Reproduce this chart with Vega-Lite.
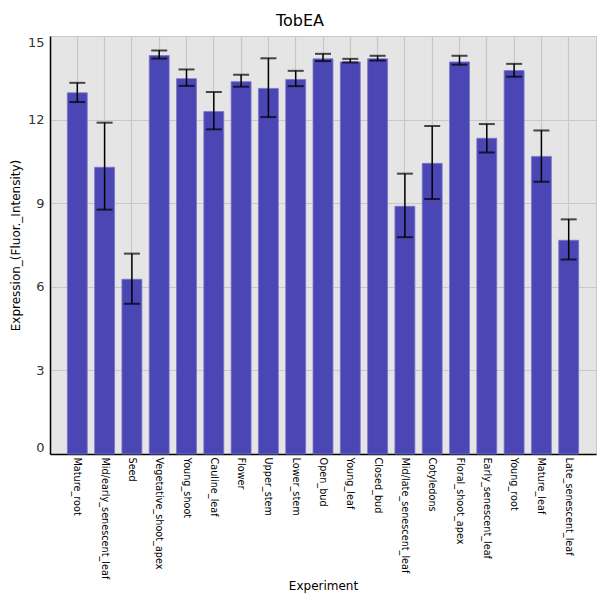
{
  "$schema": "https://vega.github.io/schema/vega-lite/v6.json",
  "autosize": "none",
  "padding": {"left": 50, "top": 36, "right": 4, "bottom": 146},
  "width": 546,
  "height": 418,
  "background": "white",
  "title": {"text": "TobEA", "fontSize": 16, "font": "DejaVu Sans", "fontWeight": "normal", "color": "black", "offset": 7, "dx": -23},
  "data": {
    "values": [
      {"Experiment": "Mature_root", "mean": 12.96, "lo": 12.63, "hi": 13.32},
      {"Experiment": "Mid/early_senescent_leaf", "mean": 10.29, "lo": 8.77, "hi": 11.89},
      {"Experiment": "Seed", "mean": 6.27, "lo": 5.39, "hi": 7.19},
      {"Experiment": "Vegetative_shoot_apex", "mean": 14.3, "lo": 14.19, "hi": 14.48},
      {"Experiment": "Young_shoot", "mean": 13.47, "lo": 13.21, "hi": 13.8},
      {"Experiment": "Cauline_leaf", "mean": 12.29, "lo": 11.65, "hi": 12.99},
      {"Experiment": "Flower", "mean": 13.36, "lo": 13.18, "hi": 13.61},
      {"Experiment": "Upper_stem", "mean": 13.12, "lo": 12.09, "hi": 14.2},
      {"Experiment": "Lower_stem", "mean": 13.44, "lo": 13.2, "hi": 13.75},
      {"Experiment": "Open_bud", "mean": 14.18, "lo": 14.1, "hi": 14.36},
      {"Experiment": "Young_leaf", "mean": 14.07, "lo": 14.05, "hi": 14.18},
      {"Experiment": "Closed_bud", "mean": 14.18, "lo": 14.12, "hi": 14.29},
      {"Experiment": "Mid/late_senescent_leaf", "mean": 8.89, "lo": 7.78, "hi": 10.06},
      {"Experiment": "Cotyledons", "mean": 10.43, "lo": 9.15, "hi": 11.77},
      {"Experiment": "Floral_shoot_apex", "mean": 14.07, "lo": 13.97, "hi": 14.29},
      {"Experiment": "Early_senescent_leaf", "mean": 11.33, "lo": 10.82, "hi": 11.84},
      {"Experiment": "Young_root", "mean": 13.76, "lo": 13.54, "hi": 14.0},
      {"Experiment": "Mature_leaf", "mean": 10.68, "lo": 9.77, "hi": 11.61},
      {"Experiment": "Late_senescent_leaf", "mean": 7.67, "lo": 6.98, "hi": 8.42}
    ]
  },
  "encoding": {
    "x": {
      "field": "Experiment",
      "type": "nominal",
      "sort": null,
      "scale": {"paddingInner": 0.27, "paddingOuter": 0.635},
      "axis": {
        "title": "Experiment",
        "titleFontSize": 12,
        "titleFontWeight": "normal",
        "titleFont": "DejaVu Sans",
        "titleColor": "black",
        "titlePadding": 2,
        "labelAngle": 90,
        "labelAlign": "left",
        "labelBaseline": "middle",
        "labelFont": "DejaVu Sans",
        "labelFontSize": 9.7,
        "labelColor": "black",
        "labelPadding": 3,
        "labelLimit": 200,
        "ticks": false,
        "domainColor": "black",
        "domainWidth": 1.5,
        "grid": true,
        "gridColor": "#c8c8c8",
        "gridWidth": 1.2
      }
    }
  },
  "layer": [
    {
      "mark": {"type": "bar", "color": "#4a46b3", "stroke": "#7a76cc", "strokeWidth": 0.8},
      "encoding": {
        "y": {
          "field": "mean",
          "type": "quantitative",
          "scale": {"domain": [0, 15], "nice": false},
          "axis": {
            "title": "Expression_(Fluor._Intensity)",
            "titleFontSize": 12,
            "titleFontWeight": "normal",
            "titleFont": "DejaVu Sans",
            "titleColor": "black",
            "titlePadding": 5,
            "values": [0, 3, 6, 9, 12, 15],
            "labelFlush": true,
            "labelFont": "DejaVu Sans",
            "labelFontSize": 13,
            "labelColor": "#333333",
            "labelPadding": 6,
            "ticks": false,
            "domainColor": "black",
            "domainWidth": 1.5,
            "grid": true,
            "gridColor": "#c8c8c8",
            "gridWidth": 1.2
          }
        }
      }
    },
    {
      "mark": {"type": "rule", "color": "black", "strokeWidth": 1.5},
      "encoding": {
        "y": {"field": "lo", "type": "quantitative"},
        "y2": {"field": "hi"}
      }
    },
    {
      "mark": {"type": "tick", "color": "black", "thickness": 2, "size": 16},
      "encoding": {"y": {"field": "lo", "type": "quantitative"}}
    },
    {
      "mark": {"type": "tick", "color": "black", "thickness": 2, "size": 16},
      "encoding": {"y": {"field": "hi", "type": "quantitative"}}
    }
  ],
  "config": {
    "view": {"fill": "#e5e5e5", "stroke": "#c8c8c8", "strokeWidth": 1}
  }
}
